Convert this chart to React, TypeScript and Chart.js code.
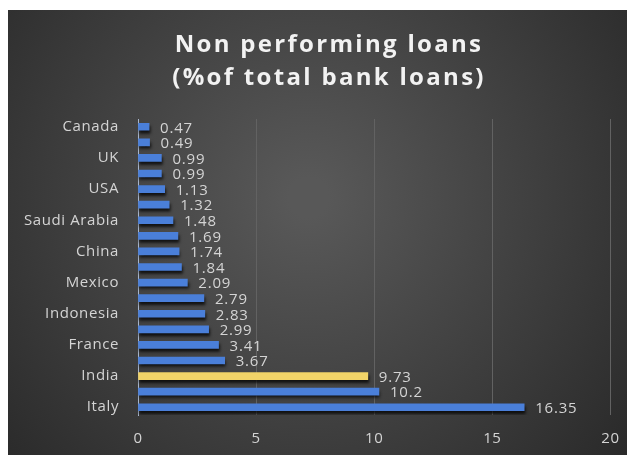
import React, { useEffect, useRef } from "react";
import { Chart, registerables } from "chart.js";

Chart.register(...registerables);

const countries = [
  "Canada", "Australia", "UK", "Japan", "USA", "Germany", "Saudi Arabia", "Korea", "China", "Argentina",
  "Mexico", "Turkey", "Indonesia", "South Africa", "France", "Brazil", "India", "Russia", "Italy",
];
const nplValues = [0.47, 0.49, 0.99, 0.99, 1.13, 1.32, 1.48, 1.69, 1.74, 1.84, 2.09, 2.79, 2.83, 2.99, 3.41, 3.67, 9.73, 10.2, 16.35];
const highlightCountry = "India";
const xTicks = [0, 5, 10, 15, 20];
const titleLines = ["Non performing loans", "(%of total bank loans)"];

const FONT = "'Open Sans', sans-serif";

const bgPlugin = {
  id: "bgPlugin",
  beforeDraw(chart: any) {
    const { ctx, width, height } = chart;
    ctx.save();
    const g = ctx.createRadialGradient(width * 0.48, height * 0.42, 20, width * 0.48, height * 0.42, width * 0.7);
    g.addColorStop(0, "#585858");
    g.addColorStop(1, "#262626");
    ctx.fillStyle = g;
    ctx.fillRect(0, 0, width, height);
    // title
    ctx.fillStyle = "#f2f2f2";
    ctx.font = `bold 24px ${FONT}`;
    ctx.letterSpacing = "2.3px";
    ctx.textAlign = "center";
    ctx.textBaseline = "middle";
    ctx.fillText(titleLines[0], 321, 35);
    ctx.fillText(titleLines[1], 321, 68);
    ctx.restore();
    ctx.letterSpacing = "0.6px";
  },
  beforeDatasetDraw(chart: any) {
    const ctx = chart.ctx;
    ctx.save();
    ctx.shadowColor = "rgba(0,0,0,0.75)";
    ctx.shadowOffsetY = 3;
    ctx.shadowOffsetX = 1;
    ctx.shadowBlur = 3;
  },
  afterDatasetDraw(chart: any) {
    chart.ctx.restore();
  },
  afterDatasetsDraw(chart: any) {
    const { ctx } = chart;
    const meta = chart.getDatasetMeta(0);
    ctx.save();
    ctx.fillStyle = "#d4d4d4";
    ctx.font = `15px ${FONT}`;
    ctx.letterSpacing = "0.8px";
    ctx.textAlign = "left";
    ctx.textBaseline = "middle";
    meta.data.forEach((bar: any, i: number) => {
      ctx.fillText(String(nplValues[i]), bar.x + 11, bar.y + 1.5);
    });
    ctx.restore();
  },
};

export default function App() {
  const ref = useRef<HTMLCanvasElement>(null);
  useEffect(() => {
    if (!ref.current) return;
    const chart = new Chart(ref.current, {
      type: "bar",
      data: {
        labels: countries,
        datasets: [
          {
            data: nplValues,
            backgroundColor: countries.map((c) => (c === highlightCountry ? "#f2d468" : "#4a7fd9")),
            borderWidth: 0,
            barThickness: 7,
          },
        ],
      },
      options: {
        indexAxis: "y",
        animation: false,
        responsive: false,
        maintainAspectRatio: false,
        layout: { padding: { top: 109, right: 21, bottom: 0, left: 0 } },
        plugins: { legend: { display: false }, tooltip: { enabled: false }, title: { display: false } },
        scales: {
          x: {
            min: 0,
            max: 20,
            afterBuildTicks(scale: any) {
              scale.ticks = xTicks.map((v) => ({ value: v }));
            },
            afterFit(scale: any) {
              scale.height = 42;
            },
            grid: {
              color: (c: any) => (c.tick && c.tick.value === 0 ? "rgba(0,0,0,0)" : "#626262"),
              lineWidth: 1,
              drawTicks: false,
            },
            border: { display: false },
            ticks: { color: "#d4d4d4", font: { family: FONT, size: 15 }, padding: 15 },
          },
          y: {
            afterFit(scale: any) {
              scale.width = 130;
            },
            grid: { display: false, drawTicks: false },
            border: { display: true, color: "#a9b6cc", width: 1 },
            ticks: {
              autoSkip: false,
              color: "#d4d4d4",
              font: { family: FONT, size: 15 },
              padding: 19,
              callback: (_v: any, i: number) => (i % 2 === 0 ? countries[i] : ""),
            },
          },
        },
      },
      plugins: [bgPlugin],
    } as any);
    return () => chart.destroy();
  }, []);
  return (
    <div style={{ marginTop: 2, width: 626, height: 447 }}>
      <canvas ref={ref} width={626} height={447} style={{ display: "block", width: 626, height: 447 }} />
    </div>
  );
}
